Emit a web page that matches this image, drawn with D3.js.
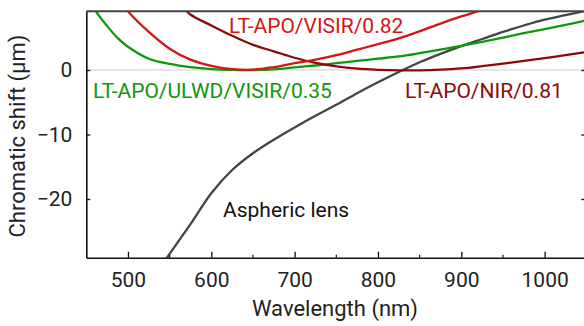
<!DOCTYPE html>
<html>
<head>
<meta charset="utf-8">
<script src="https://cdn.jsdelivr.net/npm/d3@7"></script>
<style>
  html, body { margin: 0; padding: 0; background: #fff; }
  svg { display: block; font-family: Roboto, "Noto Sans", sans-serif; }
</style>
</head>
<body>
<svg id="chart" width="584" height="326"></svg>
<script>
// Wavelength samples (nm) and chromatic focal shift (µm) for each lens
const asphericWl   = [540, 550, 575, 600, 625, 650, 675, 700, 725, 750, 775, 800, 825, 850, 875, 900, 925, 950, 975, 1000, 1025, 1050];
const asphericVals = [-30.4, -28.5, -23.9, -19.1, -15.5, -12.9, -10.8, -8.9, -7.1, -5.4, -3.6, -1.9, -0.3, 1.2, 2.5, 3.7, 4.8, 5.9, 6.9, 7.8, 8.5, 9.2];

const ulwdWl   = [450, 462, 475, 488, 500, 525, 550, 575, 600, 625, 650, 675, 700, 725, 750, 775, 800, 825, 850, 875, 900, 925, 950, 975, 1000, 1025, 1050];
const ulwdVals = [11.8, 9.0, 6.8, 4.9, 3.6, 1.75, 0.95, 0.45, 0.15, 0.02, 0.0, 0.1, 0.4, 0.7, 1.05, 1.4, 1.75, 2.1, 2.6, 3.15, 3.75, 4.35, 5.0, 5.7, 6.35, 7.0, 7.7];

const visirWl   = [490, 500, 525, 550, 575, 600, 625, 650, 675, 700, 725, 750, 775, 800, 825, 850, 875, 900, 925, 950];
const visirVals = [10.8, 9.1, 5.9, 3.3, 1.6, 0.65, 0.15, 0.05, 0.45, 1.05, 1.6, 2.3, 3.15, 4.0, 4.9, 6.0, 7.2, 8.3, 9.3, 10.5];

const nirWl   = [560, 575, 600, 625, 650, 675, 700, 725, 750, 775, 800, 825, 850, 875, 900, 925, 950, 975, 1000, 1025, 1050];
const nirVals = [10.5, 8.6, 6.9, 5.3, 3.9, 2.9, 1.9, 1.1, 0.55, 0.2, 0.03, -0.05, -0.05, 0.05, 0.25, 0.6, 1.0, 1.4, 1.85, 2.3, 2.8];

const xTicks = [500, 600, 700, 800, 900, 1000];
const xMinorTicks = [550, 650, 750, 850, 950, 1050];
const yTicks = [0, -10, -20];

const series = [
  { name: "Aspheric lens",           wl: asphericWl, vals: asphericVals, color: "#444444" },
  { name: "LT-APO/ULWD/VISIR/0.35",  wl: ulwdWl,     vals: ulwdVals,     color: "#0c990c" },
  { name: "LT-APO/NIR/0.81",         wl: nirWl,      vals: nirVals,      color: "#8b0a0a" },
  { name: "LT-APO/VISIR/0.82",       wl: visirWl,    vals: visirVals,    color: "#d41515" }
];

const svg = d3.select("#chart");
const x = d3.scaleLinear().domain([450, 1050]).range([86.3, 586.3]);
const y = d3.scaleLinear().domain([-29.1, 9.1]).range([257.7, 11.3]);

const plotL = x(450), plotR = x(1050), plotT = y(9.1), plotB = y(-29.1);

svg.append("defs").append("clipPath").attr("id", "plot")
  .append("rect").attr("x", plotL).attr("y", plotT)
  .attr("width", plotR - plotL).attr("height", plotB - plotT);

// zero reference line
svg.append("line")
  .attr("x1", plotL).attr("x2", plotR)
  .attr("y1", y(0)).attr("y2", y(0))
  .attr("stroke", "#cfcfcf").attr("stroke-width", 1);

// curves
const line = d3.line().curve(d3.curveCatmullRom.alpha(0.5));
const curves = svg.append("g").attr("clip-path", "url(#plot)");
series.forEach(s => {
  const pts = s.wl.map((w, i) => [x(w), y(s.vals[i])]);
  curves.append("path")
    .attr("d", line(pts))
    .attr("fill", "none")
    .attr("stroke", s.color)
    .attr("stroke-width", 2.3)
    .attr("stroke-linecap", "round");
});

// top frame line
svg.append("line")
  .attr("x1", plotL).attr("x2", plotR)
  .attr("y1", plotT).attr("y2", plotT)
  .attr("stroke", "#444").attr("stroke-width", 2);

// bottom axis: ticks point into the plot
const xAxis = d3.axisBottom(x).tickValues(xTicks).tickFormat(d3.format("d"))
  .tickSizeInner(-6).tickSizeOuter(0).tickPadding(14.5);
const gx = svg.append("g").attr("transform", `translate(0,${plotB})`).call(xAxis);
gx.select(".domain").attr("stroke", "#111").attr("stroke-width", 1.6);
gx.selectAll(".tick line").attr("stroke", "#111").attr("stroke-width", 1.3);
gx.selectAll(".tick text").attr("font-size", 21).attr("fill", "#222")
  .attr("font-family", "Roboto, sans-serif");
gx.selectAll(".minor").data(xMinorTicks).enter().append("line")
  .attr("x1", d => x(d)).attr("x2", d => x(d))
  .attr("y1", 0).attr("y2", -3)
  .attr("stroke", "#111").attr("stroke-width", 1.2);

// left axis
const yAxis = d3.axisLeft(y).tickValues(yTicks).tickSizeInner(-4).tickSizeOuter(0).tickPadding(14);
const gy = svg.append("g").attr("transform", `translate(${plotL},0)`).call(yAxis);
gy.select(".domain").attr("stroke", "#111").attr("stroke-width", 1.6);
gy.selectAll(".tick line").attr("stroke", "#111").attr("stroke-width", 1.3);
gy.selectAll(".tick text").attr("font-size", 21).attr("fill", "#222")
  .attr("font-family", "Roboto, sans-serif");

// right-side ticks
const gr = svg.append("g").attr("transform", `translate(${plotR},0)`)
  .call(d3.axisRight(y).tickValues(yTicks).tickSizeInner(-5).tickSizeOuter(0).tickFormat(""));
gr.select(".domain").attr("stroke", "#111").attr("stroke-width", 1.6);
gr.selectAll(".tick line").attr("stroke", "#111").attr("stroke-width", 1.3);

// axis titles
svg.append("text")
  .attr("x", 335).attr("y", 316)
  .attr("text-anchor", "middle")
  .attr("font-size", 22).attr("fill", "#222")
  .text("Wavelength (nm)");
svg.append("text")
  .attr("transform", "translate(25,136) rotate(-90)")
  .attr("text-anchor", "middle")
  .attr("font-size", 22).attr("fill", "#222")
  .text("Chromatic shift (µm)");

// curve labels
const labels = [
  { text: "LT-APO/VISIR/0.82",      x: 229, y: 32.5, color: "#d41515", size: 21 },
  { text: "LT-APO/ULWD/VISIR/0.35", x: 93,  y: 98,   color: "#0c990c", size: 21 },
  { text: "LT-APO/NIR/0.81",        x: 405, y: 98,   color: "#8b0a0a", size: 21 },
  { text: "Aspheric lens",          x: 223, y: 217,  color: "#111111", size: 21 }
];
svg.selectAll(".lbl").data(labels).enter().append("text")
  .attr("x", d => d.x).attr("y", d => d.y)
  .attr("font-size", d => d.size).attr("fill", d => d.color)
  .text(d => d.text);
</script>
</body>
</html>
